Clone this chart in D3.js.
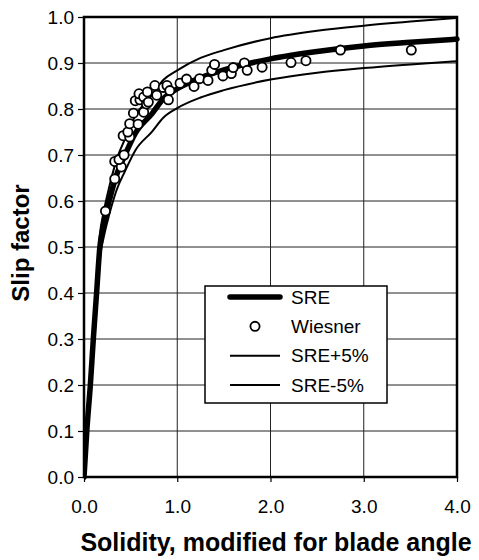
<!DOCTYPE html>
<html lang="en">
    <head>
        <meta charset="utf-8">
        <title>Slip factor vs solidity</title>
        <script type="text/javascript" src="https://cdnjs.cloudflare.com/ajax/libs/d3/7.8.5/d3.min.js"></script>
        <style>
            body { margin: 0; background: #fff; }
            text { font-family: "Liberation Sans", Arial, Helvetica, sans-serif; fill: #000; }
        </style>
    </head>
    <body>
        <div id="chart"></div>
        <script type="text/javascript">
            // SRE curve
            var sreS = [0, 0.03, 0.068, 0.10, 0.135, 0.17, 0.21, 0.27, 0.35, 0.44, 0.55, 0.73, 0.85, 1.0, 1.25, 1.5, 2.0, 2.5, 3.0, 3.5, 4.0];
            var sreV = [0, 0.10, 0.20, 0.30, 0.40, 0.50, 0.548, 0.60, 0.657, 0.70, 0.747, 0.79, 0.822, 0.844, 0.868, 0.885, 0.909, 0.925, 0.937, 0.945, 0.952];
            // SRE+5% and SRE-5% bands, same solidity points
            var upperV = [0, 0.105, 0.21, 0.315, 0.42, 0.525, 0.575, 0.63, 0.69, 0.735, 0.785, 0.83, 0.863, 0.884, 0.911, 0.928, 0.954, 0.97, 0.981, 0.99, 0.998];
            var lowerV = [0, 0.095, 0.19, 0.285, 0.38, 0.475, 0.52, 0.57, 0.624, 0.665, 0.71, 0.751, 0.781, 0.802, 0.825, 0.841, 0.864, 0.879, 0.889, 0.897, 0.904];
            // Wiesner data points
            var wiesnerS = [0.23, 0.33, 0.33, 0.40, 0.375, 0.43, 0.42, 0.49, 0.47, 0.49, 0.58, 0.53, 0.64, 0.55, 0.60, 0.59, 0.64, 0.68, 0.67, 0.69,
                            0.76, 0.78, 0.85, 0.89, 0.92, 0.905, 1.03, 1.10, 1.18, 1.24, 1.33, 1.37, 1.40, 1.49, 1.58, 1.60, 1.72, 1.75, 1.91, 2.22,
                            2.38, 2.75, 3.51];
            var wiesnerV = [0.578, 0.648, 0.686, 0.674, 0.69, 0.70, 0.742, 0.739, 0.75, 0.768, 0.767, 0.791, 0.793, 0.818, 0.82, 0.833, 0.826, 0.837, 0.811, 0.815,
                            0.851, 0.83, 0.847, 0.851, 0.84, 0.82, 0.856, 0.865, 0.849, 0.866, 0.862, 0.884, 0.897, 0.872, 0.877, 0.89, 0.90, 0.884, 0.891, 0.901,
                            0.905, 0.928, 0.928];
            var xTicks = [0, 1, 2, 3, 4];
            var yTicks = [0, 0.1, 0.2, 0.3, 0.4, 0.5, 0.6, 0.7, 0.8, 0.9, 1.0];
            var legendNames = ["SRE", "Wiesner", "SRE+5%", "SRE-5%"];

            var width = 479;
            var height = 560;
            // plot area edges (window.top is reserved, so use own names)
            var pL = 84, pR = 457, pT = 17, pB = 477;

            var xScale = d3.scaleLinear().domain([0, 4]).range([pL, pR]);
            var yScale = d3.scaleLinear().domain([0, 1]).range([pB, pT]);

            var svg = d3.select("#chart")
                .append("svg")
                .attr("width", width)
                .attr("height", height);

            // grid lines
            svg.append("g")
                .selectAll("line")
                .data(xTicks.slice(1, -1))
                .enter().append("line")
                .attr("x1", function(d){ return xScale(d); })
                .attr("x2", function(d){ return xScale(d); })
                .attr("y1", pT).attr("y2", pB)
                .attr("stroke", "#222").attr("stroke-width", 1);
            svg.append("g")
                .selectAll("line")
                .data(yTicks.slice(1, -1))
                .enter().append("line")
                .attr("y1", function(d){ return yScale(d); })
                .attr("y2", function(d){ return yScale(d); })
                .attr("x1", pL).attr("x2", pR)
                .attr("stroke", "#222").attr("stroke-width", 1);

            // axes
            var yAxis = d3.axisLeft(yScale).tickValues(yTicks).tickFormat(d3.format(".1f")).tickSize(6).tickPadding(4);
            var xAxis = d3.axisBottom(xScale).tickValues(xTicks).tickFormat(d3.format(".1f")).tickSize(5).tickPadding(18);
            var gy = svg.append("g").attr("transform", "translate(" + pL + ",0)").call(yAxis);
            var gx = svg.append("g").attr("transform", "translate(0," + pB + ")").call(xAxis);
            [gx, gy].forEach(function(g){
                g.select(".domain").remove();
                g.selectAll("line").attr("stroke", "#000").attr("stroke-width", 1.2);
                g.selectAll("text").attr("font-size", 19).attr("font-family", "Liberation Sans, Arial, sans-serif").attr("fill", "#000");
            });

            svg.append("defs").append("clipPath").attr("id", "plot")
                .append("rect").attr("x", pL).attr("y", pT - 3).attr("width", pR - pL + 4).attr("height", pB - pT + 6);

            var plot = svg.append("g").attr("clip-path", "url(#plot)");

            var line = d3.line()
                .x(function(d){ return xScale(d[0]); })
                .y(function(d){ return yScale(d[1]); })
                .curve(d3.curveMonotoneX);

            plot.append("path")
                .datum(d3.zip(sreS, upperV))
                .attr("d", line).attr("fill", "none").attr("stroke", "#000").attr("stroke-width", 2);
            plot.append("path")
                .datum(d3.zip(sreS, lowerV))
                .attr("d", line).attr("fill", "none").attr("stroke", "#000").attr("stroke-width", 2);
            plot.append("path")
                .datum(d3.zip(sreS, sreV))
                .attr("d", line).attr("fill", "none").attr("stroke", "#000")
                .attr("stroke-width", 5.5).attr("stroke-linecap", "round");

            plot.selectAll("circle")
                .data(d3.zip(wiesnerS, wiesnerV))
                .enter().append("circle")
                .attr("cx", function(d){ return xScale(d[0]); })
                .attr("cy", function(d){ return yScale(d[1]); })
                .attr("r", 4.6)
                .attr("fill", "#fff").attr("stroke", "#000").attr("stroke-width", 1.8);

            // frame
            svg.append("rect")
                .attr("x", pL).attr("y", pT)
                .attr("width", pR - pL).attr("height", pB - pT)
                .attr("fill", "none").attr("stroke", "#000").attr("stroke-width", 2.5);

            // axis titles
            svg.append("text")
                .attr("x", 276).attr("y", 551)
                .attr("text-anchor", "middle")
                .attr("font-size", 25).attr("font-weight", "bold")
                .text("Solidity, modified for blade angle");
            svg.append("text")
                .attr("transform", "translate(29,243) rotate(-90)")
                .attr("text-anchor", "middle")
                .attr("font-size", 24).attr("font-weight", "bold")
                .text("Slip factor");

            // legend
            var lg = svg.append("g");
            lg.append("rect")
                .attr("x", 205).attr("y", 286).attr("width", 182).attr("height", 117)
                .attr("fill", "#fff").attr("stroke", "#000").attr("stroke-width", 1.5);
            var rowY = d3.scalePoint().domain(legendNames).range([297, 385]);
            legendNames.forEach(function(name, i){
                var y = rowY(name);
                if (i === 1) {
                    lg.append("circle").attr("cx", 255).attr("cy", y).attr("r", 4.6)
                        .attr("fill", "#fff").attr("stroke", "#000").attr("stroke-width", 1.8);
                } else {
                    lg.append("line").attr("x1", 230).attr("x2", 280)
                        .attr("y1", y).attr("y2", y)
                        .attr("stroke", "#000")
                        .attr("stroke-width", i === 0 ? 5.5 : 2)
                        .attr("stroke-linecap", i === 0 ? "round" : "butt");
                }
                lg.append("text").attr("x", 291).attr("y", y).attr("dy", "0.35em")
                    .attr("font-size", 19).text(name);
            });
        </script>
    </body>
</html>
